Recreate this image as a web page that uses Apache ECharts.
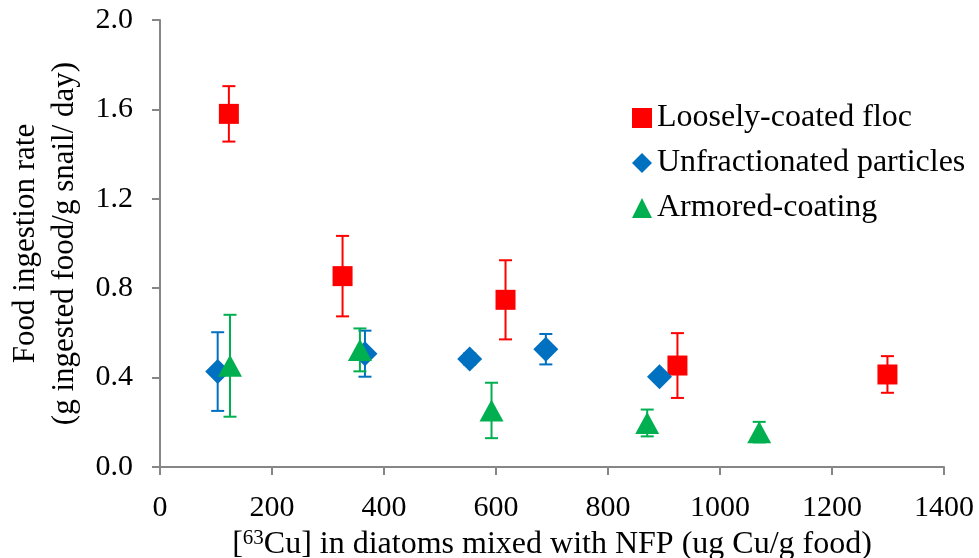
<!DOCTYPE html>
<html><head><meta charset="utf-8">
<script src="https://cdn.jsdelivr.net/npm/echarts@6/dist/echarts.min.js"></script>
<style>html,body{margin:0;padding:0;background:#fff}#c{width:979px;height:558px}</style>
</head><body><div id="c"></div>
<script>
// Data
const seriesNames = ['Loosely-coated floc', 'Unfractionated particles', 'Armored-coating'];
const looseX = [123, 326, 617, 924, 1299];
const looseY = [1.58, 0.854, 0.748, 0.454, 0.414];
const looseErr = [0.124, 0.18, 0.177, 0.145, 0.082];
const unfracX = [103, 366, 553, 689, 892];
const unfracY = [0.427, 0.507, 0.483, 0.527, 0.404];
const unfracErr = [0.176, 0.103, 0.025, 0.068, 0.02];
const armorX = [125, 357, 592, 870, 1070];
const armorY = [0.453, 0.524, 0.253, 0.197, 0.156];
const armorErr = [0.228, 0.096, 0.124, 0.06, 0.046];
const xTicks = [0, 200, 400, 600, 800, 1000, 1200, 1400];
const yTicks = [0.0, 0.4, 0.8, 1.2, 1.6, 2.0];

const colors = ['#FF0000', '#0070C0', '#00B050'];
const FONT = '"Liberation Serif", "Times New Roman", serif';

function pts(xs, ys) { return xs.map((x, i) => [x, ys[i]]); }
function errs(xs, ys, es) { return xs.map((x, i) => [x, ys[i] - es[i], ys[i] + es[i]]); }

function errSeries(data, color) {
  return {
    type: 'custom', silent: true, z: 2,
    data: data,
    renderItem: function (params, api) {
      const x = api.value(0);
      const lo = api.coord([x, api.value(1)]);
      const hi = api.coord([x, api.value(2)]);
      const hw = 6.5;
      const st = { stroke: color, lineWidth: 2, fill: null };
      return {
        type: 'group',
        children: [
          { type: 'line', shape: { x1: lo[0], y1: lo[1], x2: hi[0], y2: hi[1] }, style: st },
          { type: 'line', shape: { x1: lo[0] - hw, y1: lo[1], x2: lo[0] + hw, y2: lo[1] }, style: st },
          { type: 'line', shape: { x1: hi[0] - hw, y1: hi[1], x2: hi[0] + hw, y2: hi[1] }, style: st }
        ]
      };
    }
  };
}

const chart = echarts.init(document.getElementById('c'));
chart.setOption({
  animation: false,
  textStyle: { fontFamily: FONT },
  grid: { left: 160, right: 35, top: 20, bottom: 91, containLabel: false, outerBoundsMode: 'none' },
  legend: {
    orient: 'vertical', left: 632, top: 101, itemGap: 11, padding: 0,
    itemWidth: 20, itemHeight: 20,
    textStyle: { fontFamily: FONT, fontSize: 32, color: '#000', lineHeight: 34, padding: [0, 0, 0, 0] },
    data: [
      { name: seriesNames[0], icon: 'rect' },
      { name: seriesNames[1], icon: 'diamond' },
      { name: seriesNames[2], icon: 'triangle' }
    ]
  },
  xAxis: {
    type: 'value', min: 0, max: 1400, interval: 200,
    name: '[{sup|63}Cu] in diatoms mixed with NFP (ug Cu/g food)',
    nameLocation: 'middle', nameGap: 60,
    nameTextStyle: {
      fontFamily: FONT, fontSize: 32, color: '#000',
      rich: { sup: { fontFamily: FONT, fontSize: 21, verticalAlign: 'top', padding: [0, 0, 12, 0], color: '#000' } }
    },
    axisLine: { lineStyle: { color: '#868686', width: 2 } },
    axisTick: { show: true, inside: false, length: 8, lineStyle: { color: '#868686', width: 2 } },
    axisLabel: { fontFamily: FONT, fontSize: 30, color: '#000', margin: 26,
      formatter: v => xTicks.includes(v) ? String(v) : '' },
    splitLine: { show: false }
  },
  yAxis: {
    type: 'value', min: 0, max: 2, interval: 0.4,
    name: 'Food ingestion rate\n(g ingested food/g snail/ day)',
    nameLocation: 'middle', nameGap: 74, nameRotate: 90,
    nameTextStyle: { fontFamily: FONT, fontSize: 31, color: '#000', lineHeight: 39 },
    axisLine: { show: true, lineStyle: { color: '#868686', width: 2 } },
    axisTick: { show: true, inside: false, length: 8, lineStyle: { color: '#868686', width: 2 } },
    axisLabel: { fontFamily: FONT, fontSize: 30, color: '#000', margin: 27,
      formatter: v => yTicks.some(t => Math.abs(t - v) < 1e-9) ? v.toFixed(1) : '' },
    splitLine: { show: false }
  },
  series: [
    errSeries(errs(looseX, looseY, looseErr), colors[0]),
    errSeries(errs(unfracX, unfracY, unfracErr), colors[1]),
    errSeries(errs(armorX, armorY, armorErr), colors[2]),
    { name: seriesNames[0], type: 'scatter', symbol: 'rect', symbolSize: 20, z: 3,
      itemStyle: { color: colors[0], opacity: 1 }, data: pts(looseX, looseY) },
    { name: seriesNames[1], type: 'scatter', symbol: 'diamond', symbolSize: 25, z: 3,
      itemStyle: { color: colors[1], opacity: 1 }, data: pts(unfracX, unfracY) },
    { name: seriesNames[2], type: 'scatter', symbol: 'triangle', symbolSize: [24, 22], z: 3,
      itemStyle: { color: colors[2], opacity: 1 }, data: pts(armorX, armorY) }
  ]
});
</script></body></html>
